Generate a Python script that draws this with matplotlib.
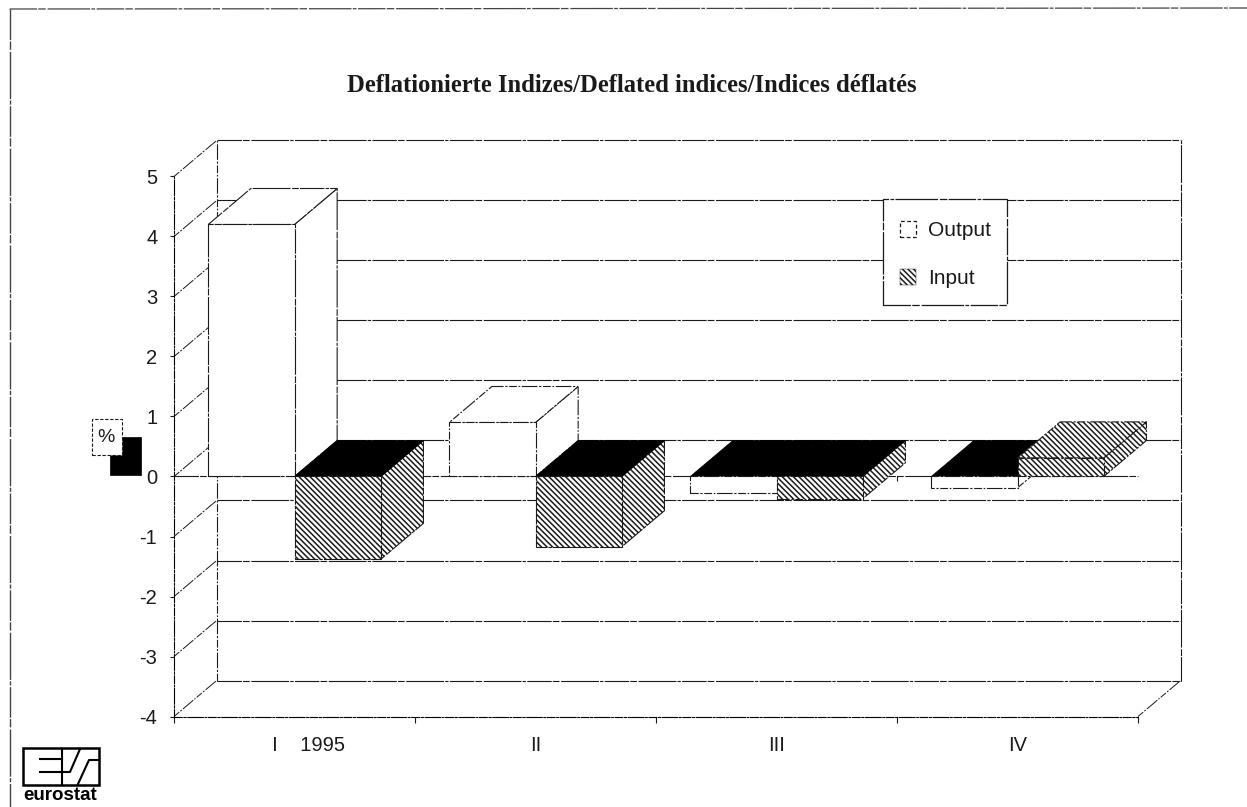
import matplotlib
matplotlib.use("Agg")
import matplotlib.pyplot as plt
from matplotlib.patches import Polygon, Rectangle, Patch
from matplotlib.lines import Line2D

title = "Deflationierte Indizes/Deflated indices/Indices déflatés"
quarters = ["     I    1995", "II", "III", "IV"]
output_values = [4.2, 0.9, -0.28, -0.19]
input_values = [-1.38, -1.17, -0.37, 0.31]
y_ticks = [5, 4, 3, 2, 1, 0, -1, -2, -3, -4]
y_tick_labels = ["5", "4", "3", "2", "1", "0", "-1", "-2", "-3", "-4"]
series_names = ["Output", "Input"]

W, H = 1247, 807
plt.rcParams["font.family"] = ["Liberation Sans", "DejaVu Sans"]
plt.rcParams["hatch.linewidth"] = 1.1
fig = plt.figure(figsize=(W / 100, H / 100), dpi=100, facecolor="white")
ax = fig.add_axes([174 / W, 1 - 716.5 / H, 964 / W, 540 / H])
ax.set_xlim(0, 4)
ax.set_ylim(-4, 5)

DX, DY = 0.177, 0.6      # depth of the pseudo-3D box, in data units
BAR_W = 0.358
INK = "#1a1a1a"
BROKEN = (0, (22, 1, 6, 1.5, 34, 1, 3, 1.2))
DASHED = (0, (7, 1.5, 2, 1.5, 14, 1.5, 1.5, 1.5))
HATCH = "\\" * 6


def fx(x):
    return x / W


def fy(y):
    return 1 - y / H


def line(xs, ys, ls=BROKEN, lw=0.8, z=1):
    ax.plot(xs, ys, color=INK, lw=lw, ls=ls, clip_on=False, zorder=z)


# back wall, left wall and floor
for v in y_ticks:
    line([DX, 4 + DX], [v + DY, v + DY])
    line([0, DX], [v, v + DY], ls=DASHED, lw=0.7)
line([DX, DX], [-4 + DY, 5 + DY], ls=DASHED)
line([4 + DX, 4 + DX], [-4 + DY, 5 + DY])
line([4, 4 + DX], [-4, -4 + DY], ls=DASHED, lw=0.7)

# zero plane
line([0, 4], [0, 0], lw=0.8, z=1.5)
ax.vlines([1, 2, 3, 4], -0.08, 0, color=INK, lw=0.8, zorder=1.5)


def draw_bar(x0, v, hatched, z):
    x1 = x0 + BAR_W
    hatch = HATCH if hatched else None
    ls = BROKEN if abs(v) > 1 else DASHED
    kw = dict(facecolor="white", edgecolor=INK, lw=0.8, ls=ls, hatch=hatch, clip_on=False)
    # side face
    side = Polygon([(x1, 0), (x1 + DX, DY), (x1 + DX, v + DY), (x1, v)], zorder=z, **kw)
    ax.add_patch(side)
    # top face
    top_y = max(v, 0)
    if v < 0:
        top_kw = dict(facecolor="black", edgecolor="black", lw=0.5, clip_on=False)
    else:
        top_kw = kw
    top = Polygon([(x0, top_y), (x1, top_y), (x1 + DX, top_y + DY), (x0 + DX, top_y + DY)],
                  zorder=z, **top_kw)
    ax.add_patch(top)
    # front face
    ax.bar(x0, v, width=BAR_W, align="edge", zorder=z + 0.1, **kw)


for i in range(len(quarters)):
    centre = i + 0.5
    draw_bar(centre - BAR_W, output_values[i], False, 2 + i)
    draw_bar(centre, input_values[i], True, 2.5 + i)

# axes furniture
for side in ("top", "right"):
    ax.spines[side].set_visible(False)
for side in ("left", "bottom"):
    ax.spines[side].set_linestyle(DASHED)
    ax.spines[side].set_linewidth(0.8)
ax.set_yticks(y_ticks)
ax.set_yticklabels(y_tick_labels)
ax.tick_params(axis="y", length=3, width=0.8, pad=9, labelsize=14.5, color=INK, labelcolor=INK)
ax.set_xticks([0, 1, 2, 3, 4])
ax.set_xticklabels([])
ax.tick_params(axis="x", which="major", length=4, width=0.8, direction="out", color=INK)
ax.set_xticks([0.5, 1.5, 2.5, 3.5], minor=True)
ax.set_xticklabels(quarters, minor=True)
ax.tick_params(axis="x", which="minor", length=0, pad=14, labelsize=14.5, labelcolor=INK)

# legend: frame drawn separately so its box can be sized independently of the entries
ax.add_patch(Rectangle((fx(883), fy(305)), 124 / W, 106 / H, transform=fig.transFigure,
                       facecolor="white", edgecolor=INK, lw=0.9, ls=BROKEN,
                       clip_on=False, zorder=19))
handles = [
    Patch(facecolor="white", edgecolor=INK, ls=(0, (3, 2)), lw=0.9),
    Patch(facecolor="white", edgecolor=INK, lw=0.3, hatch=HATCH),
]
leg = ax.legend(handles, series_names, loc="upper left",
                bbox_to_anchor=(fx(900), fy(221)), bbox_transform=fig.transFigure,
                borderaxespad=0, fontsize=15, handlelength=0.78, handleheight=0.78,
                handletextpad=0.55, labelspacing=1.4, borderpad=0, frameon=False)
leg.set_zorder(20)
for t in leg.get_texts():
    t.set_color(INK)

# title
fig.text(fx(632), fy(86), title, ha="center", va="center", fontsize=17.7,
         family="Liberation Serif", weight="bold", color=INK)

# percent badge
fig.add_artist(Rectangle((fx(110), fy(475)), 31 / W, 38 / H, transform=fig.transFigure,
                         facecolor="black", edgecolor="black", lw=0.5))
fig.add_artist(Rectangle((fx(92), fy(455)), 30 / W, 36 / H, transform=fig.transFigure,
                         facecolor="white", edgecolor=INK, lw=0.8, ls=(0, (3, 1.5))))
fig.text(fx(106), fy(438), "%", ha="center", va="center", fontsize=14, color=INK)

# page frame
fig.add_artist(Line2D([fx(9.5), fx(9.5)], [fy(9), fy(807)], transform=fig.transFigure,
                      color="#444444", lw=1.0, ls=BROKEN))
fig.add_artist(Line2D([fx(9.5), fx(1247)], [fy(9), fy(8)], transform=fig.transFigure,
                      color="#444444", lw=0.9, ls=BROKEN))

# eurostat logo
fig.add_artist(Rectangle((fx(23), fy(785)), 76 / W, 37 / H, transform=fig.transFigure,
                         facecolor="white", edgecolor="black", lw=1.8))
logo_strokes = [
    ([40, 62], [759, 759]),
    ([40, 62], [772, 772]),
    ([62, 62], [749, 784]),
    ([62, 70, 80], [772, 772, 749]),
    ([78, 89, 98], [784, 760, 760]),
]
for xs, ys in logo_strokes:
    fig.add_artist(Line2D([fx(x) for x in xs], [fy(y) for y in ys],
                          transform=fig.transFigure, color="black", lw=1.5))
fig.text(fx(23), fy(795), "eurostat", ha="left", va="center", fontsize=13.5,
         weight="bold", color="black")

fig.savefig("out.png", dpi=100)
